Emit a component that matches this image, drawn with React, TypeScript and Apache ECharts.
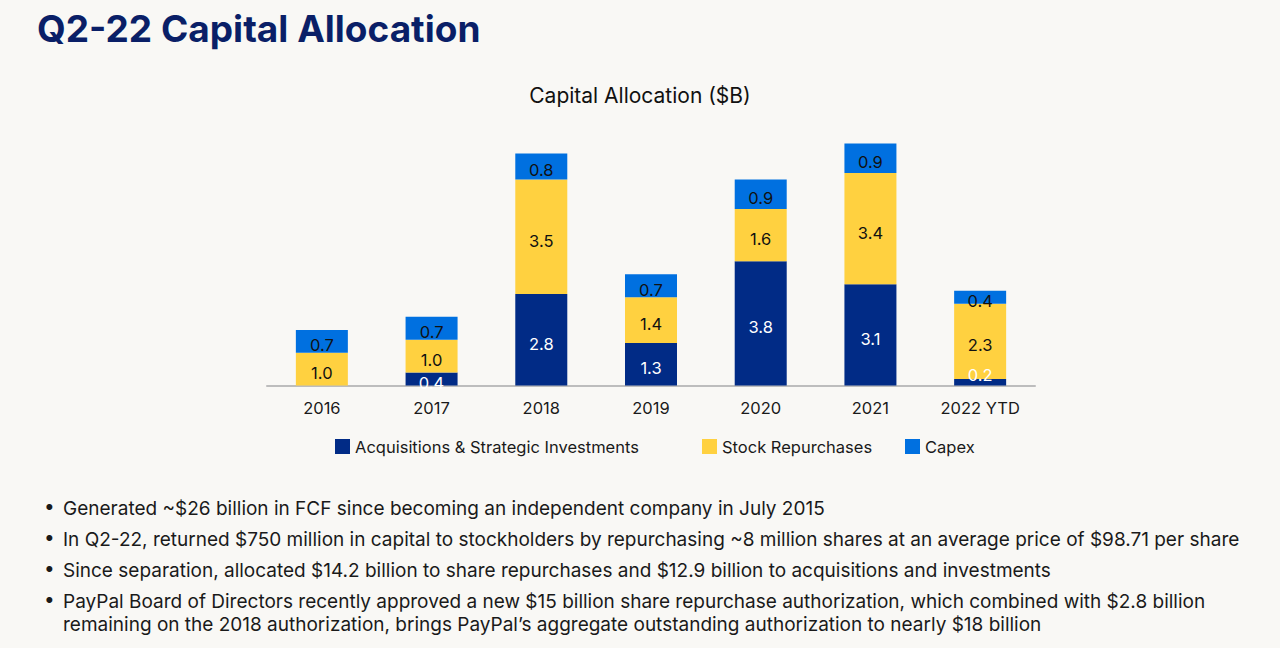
import React, { useEffect, useRef } from "react";
import * as echarts from "echarts";

const categories = ["2016", "2017", "2018", "2019", "2020", "2021", "2022 YTD"];
const acquisitions = [0, 0.4, 2.8, 1.3, 3.8, 3.1, 0.2];
const repurchases = [1.0, 1.0, 3.5, 1.4, 1.6, 3.4, 2.3];
const capex = [0.7, 0.7, 0.8, 0.7, 0.9, 0.9, 0.4];
const seriesNames = ["Acquisitions & Strategic Investments", "Stock Repurchases", "Capex"];
const bullets = [
  "Generated ~$26 billion in FCF since becoming an independent company in July 2015",
  "In Q2-22, returned $750 million in capital to stockholders by repurchasing ~8 million shares at an average price of $98.71 per share",
  "Since separation, allocated $14.2 billion to share repurchases and $12.9 billion to acquisitions and investments",
  "PayPal Board of Directors recently approved a new $15 billion share repurchase authorization, which combined with $2.8 billion\nremaining on the 2018 authorization, brings PayPal\u2019s aggregate outstanding authorization to nearly $18 billion",
];

const NAVY = "#012B86";
const YELLOW = "#FFD140";
const BLUE = "#0070E0";
const FONT = "Inter";

export default function App() {
  const ref = useRef<HTMLDivElement>(null);
  useEffect(() => {
    const chart = echarts.init(ref.current!, null, { renderer: "svg" });
    const lbl = (color: string) => ({
      show: true,
      position: "inside" as const,
      color,
      fontSize: 16.5,
      fontFamily: FONT,
      offset: [0, 4],
      formatter: (p: any) => (p.value > 0 ? Number(p.value).toFixed(1) : ""),
    });
    const legendBase = {
      top: 433,
      itemWidth: 15,
      itemHeight: 15,
      icon: "rect",
      textStyle: { fontSize: 16.5, color: "#1a1a1a", fontFamily: FONT, padding: [6, 0, 0, 0] },
      itemGap: 8,
    };
    const bulletY = [509, 540, 571, 602];
    const graphics: any[] = [];
    bullets.forEach((b, i) => {
      graphics.push({
        type: "text",
        left: 44,
        top: bulletY[i] - 12,
        style: { text: "\u2022", fontSize: 19, fill: "#1a1a1a", fontFamily: FONT },
      });
      graphics.push({
        type: "text",
        left: 63,
        top: bulletY[i] - 12,
        style: { text: b, fontSize: 19, lineHeight: 23, fill: "#1a1a1a", fontFamily: FONT },
      });
    });
    const acqData = acquisitions.map((v, i) =>
      i === acquisitions.length - 1 ? { value: v, label: { offset: [0, -7] } } : v
    );
    chart.setOption({
      animation: false,
      backgroundColor: "#F9F8F5",
      title: [
        {
          text: "Q2-22 Capital Allocation",
          left: 32,
          top: 5,
          textStyle: { fontSize: 37, fontWeight: "bold", color: "#0A1F67", fontFamily: FONT },
        },
        {
          text: "Capital Allocation ($B)",
          left: "center",
          top: 80,
          textStyle: { fontSize: 21, fontWeight: "normal", color: "#111", fontFamily: FONT },
        },
      ],
      legend: [
        { ...legendBase, left: 330, data: [seriesNames[0]] },
        { ...legendBase, left: 697, data: [seriesNames[1]] },
        { ...legendBase, left: 900, data: [seriesNames[2]] },
      ],
      grid: { left: 267, right: 245, top: 124, bottom: 262.5 },
      xAxis: {
        type: "category",
        data: categories,
        axisLine: { lineStyle: { color: "#BDBDBD", width: 2 } },
        axisTick: { show: false },
        axisLabel: { fontSize: 16.5, color: "#1a1a1a", margin: 14, fontFamily: FONT },
      },
      yAxis: { type: "value", min: 0, max: 8, show: false, splitLine: { show: false } },
      series: [
        { name: seriesNames[0], type: "bar", stack: "a", data: acqData, barWidth: 52, itemStyle: { color: NAVY }, label: lbl("#ffffff") },
        { name: seriesNames[1], type: "bar", stack: "a", data: repurchases, barWidth: 52, itemStyle: { color: YELLOW }, label: lbl("#111111") },
        { name: seriesNames[2], type: "bar", stack: "a", data: capex, barWidth: 52, itemStyle: { color: BLUE }, label: lbl("#111111") },
      ],
      graphic: graphics,
    });
    return () => chart.dispose();
  }, []);
  return <div ref={ref} style={{ position: "fixed", left: 0, top: 0, width: 1280, height: 648 }} />;
}
